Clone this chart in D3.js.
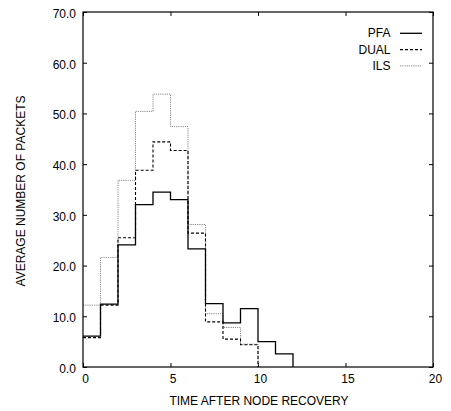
<!DOCTYPE html>
<html><head><meta charset="utf-8">
<script src="https://cdn.jsdelivr.net/npm/d3@7"></script>
<style>body{margin:0;background:#fff}text{font-family:"Liberation Sans",Arial,sans-serif;font-size:12px;fill:#000}</style>
</head><body><svg id="c" width="451" height="411"></svg>
<script>
const pfa  = [6.1, 12.4, 24.1, 32.0, 34.5, 33.0, 23.3, 12.5, 8.7, 11.5, 5.0, 2.6];
const dual = [5.8, 12.2, 25.5, 38.8, 44.4, 42.7, 26.4, 8.9, 5.5, 4.4];
const ils  = [12.2, 21.6, 36.8, 50.4, 53.8, 47.4, 28.1, 10.5, 7.8, 4.5];
const seriesNames = ["PFA", "DUAL", "ILS"];
const xTicks = [0, 5, 10, 15, 20];
const yTicks = [0, 10, 20, 30, 40, 50, 60, 70];

const svg = d3.select("#c");
const L = 83, R = 433, T = 12, B = 367;
const x = d3.scaleLinear().domain([0, 20]).range([L, R]);
const y = d3.scaleLinear().domain([0, 70]).range([B, T]);
const FONT = "Liberation Sans, Arial, sans-serif";

const g = svg.append("g");
function axis(gen, tr) {
  const a = g.append("g").attr("transform", tr).call(gen);
  a.select(".domain").remove();
  a.selectAll("line").attr("stroke", "#000");
  return a;
}
const xb = axis(d3.axisBottom(x).tickValues(xTicks).tickSize(-4).tickPadding(14).tickFormat(d3.format("d")), `translate(0,${B})`);
xb.selectAll("text").attr("font-size", 12.5).attr("font-family", FONT).attr("dx", 2).attr("dy", "0.2em");
axis(d3.axisTop(x).tickValues(xTicks).tickSize(-4).tickFormat(""), `translate(0,${T})`);
const yl = axis(d3.axisLeft(y).tickValues(yTicks).tickSize(-4).tickPadding(7).tickFormat(d3.format(".1f")), `translate(${L},0)`);
yl.selectAll("text").attr("font-size", 12.5).attr("font-family", FONT).attr("dy", "0.45em");
axis(d3.axisRight(y).tickValues(yTicks).tickSize(-4).tickFormat(""), `translate(${R},0)`);

const line = d3.line().x(d => x(d[0])).y(d => y(d[1])).curve(d3.curveStepAfter);
function pts(arr) { const p = arr.map((v, i) => [i, v]); p.push([arr.length, 0]); return p; }

const styles = [
  {data: pfa,  stroke: "#000", width: 1.3, dash: null},
  {data: dual, stroke: "#000", width: 1.1, dash: "3,2"},
  {data: ils,  stroke: "#888", width: 1.0, dash: "1.2,1"}
];
[2, 1, 0].forEach(i => {
  const s = styles[i];
  svg.append("path").datum(pts(s.data)).attr("d", line)
    .attr("fill", "none").attr("stroke", s.stroke).attr("stroke-width", s.width)
    .attr("stroke-dasharray", s.dash);
});

svg.append("rect").attr("x", L).attr("y", T).attr("width", R - L).attr("height", B - T)
  .attr("fill", "none").attr("stroke", "#000").attr("stroke-width", 1.2);

seriesNames.forEach((n, i) => {
  const ly = 33.3 + i * 16.3;
  svg.append("text").attr("x", 390.5).attr("y", ly + 4).attr("text-anchor", "end").text(n);
  const s = styles[i];
  svg.append("line").attr("x1", 400).attr("x2", 422).attr("y1", ly).attr("y2", ly)
    .attr("stroke", s.stroke).attr("stroke-width", s.width).attr("stroke-dasharray", s.dash);
});

svg.append("text").attr("x", (L + R) / 2 + 1).attr("y", 405).attr("text-anchor", "middle")
  .attr("font-size", 12.5).text("TIME AFTER NODE RECOVERY");
svg.append("text").attr("transform", "translate(25,191) rotate(-90)").attr("text-anchor", "middle").text("AVERAGE NUMBER OF PACKETS");
</script></body></html>
